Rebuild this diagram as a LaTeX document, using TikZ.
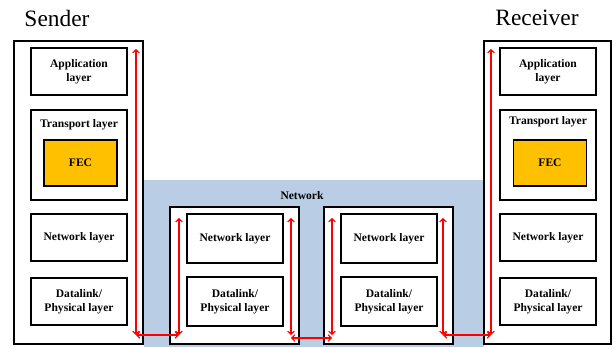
\documentclass[tikz,border=0pt]{standalone}
\usepackage{fontspec}
\setmainfont{Liberation Serif}
\usetikzlibrary{arrows.meta}
\definecolor{netblue}{RGB}{185,205,229}
\definecolor{fec}{RGB}{255,192,0}
\colorlet{flowred}{red}

\begin{document}
\begin{tikzpicture}[x=1bp,y=-1bp,
  box/.style={draw, fill=white, line width=1.1bp, inner sep=0},
  layer/.style={box, align=center, font=\bfseries\fontsize{11.6}{14}\selectfont, minimum width=96bp, minimum height=47bp},
  fecbox/.style={box, fill=fec, font=\bfseries\fontsize{11.6}{14}\selectfont, minimum width=73bp, minimum height=46bp},
  title/.style={font=\fontsize{23.5}{26}\selectfont},
  lbl/.style={font=\bfseries\fontsize{11.6}{14}\selectfont},
  hop/.style={color=flowred, line width=1.2bp, {Straight Barb[length=3bp,width=6.5bp]}-{Straight Barb[length=3bp,width=6.5bp]}}]

  \useasboundingbox (0,0) rectangle (614,347);

  % network cloud
  \fill[netblue] (144,180) rectangle (484,347);
  \node[lbl] (net) at (302,196) {Network};

  % sender
  \node[title] (sender_t) at (57,18) {Sender};
  \node[box, minimum width=129bp, minimum height=303bp] (sender) at (78.5,192.5) {};
  \node[layer] (s_app) at (79,71.5) {Application\\layer};
  \node[box, minimum width=96bp, minimum height=90bp] (s_trans) at (79,155) {};
  \node[lbl] at ([yshift=-15bp]s_trans.north) {Transport layer};
  \node[fecbox] (s_fec) at (80.5,163) {FEC};
  \node[layer] (s_net) at (79,237.5) {Network layer};
  \node[layer] (s_dl) at (79,301.5) {Datalink/\\Physical layer};

  % routers
  \node[box, minimum width=129bp, minimum height=137bp] (r1) at (234.5,275.5) {};
  \node[layer, minimum height=49bp] (r1_net) at (235,238.5) {Network layer};
  \node[layer, minimum height=49bp] (r1_dl) at (235,301.5) {Datalink/\\Physical layer};

  \node[box, minimum width=129bp, minimum height=137bp] (r2) at (388.5,275.5) {};
  \node[layer, minimum height=49bp] (r2_net) at (389,238.5) {Network layer};
  \node[layer, minimum height=49bp] (r2_dl) at (389,301.5) {Datalink/\\Physical layer};

  % receiver
  \node[title] (receiver_t) at (537,18) {Receiver};
  \node[box, minimum width=127bp, minimum height=303bp] (receiver) at (547.5,192.5) {};
  \node[layer] (d_app) at (548,71.5) {Application\\layer};
  \node[box, minimum width=96bp, minimum height=90bp] (d_trans) at (548,155) {};
  \node[lbl] at ([yshift=-12bp]d_trans.north) {Transport layer};
  \node[fecbox] (d_fec) at (550,163) {FEC};
  \node[layer] (d_net) at (548,237.5) {Network layer};
  \node[layer] (d_dl) at (548,301.5) {Datalink/\\Physical layer};

  % packet path
  \coordinate (s_top) at (136,49);
  \coordinate (s_bot) at (136,335);
  \coordinate (r1_lt) at (179,218);
  \coordinate (r1_lb) at (179,335);
  \coordinate (r1_rt) at (291,218);
  \coordinate (r1_rb) at (291,335);
  \coordinate (r2_lt) at (332,218);
  \coordinate (r2_lb) at (332,335);
  \coordinate (r2_rt) at (443,218);
  \coordinate (r2_rb) at (443,335);
  \coordinate (d_top) at (491,49);
  \coordinate (d_bot) at (491,335);

  \draw[hop] (s_top) -- (s_bot);
  \draw[hop] (s_bot) -- (r1_lb);
  \draw[hop] (r1_lt) -- (r1_lb);
  \draw[hop] (r1_rt) -- (r1_rb);
  \draw[hop] ([yshift=-3bp]r1_rb) -- ([yshift=-3bp]r2_lb);
  \draw[hop] (r2_lt) -- (r2_lb);
  \draw[hop] (r2_rt) -- (r2_rb);
  \draw[hop] (r2_rb) -- (d_bot);
  \draw[hop] (d_top) -- (d_bot);

\end{tikzpicture}
\end{document}
